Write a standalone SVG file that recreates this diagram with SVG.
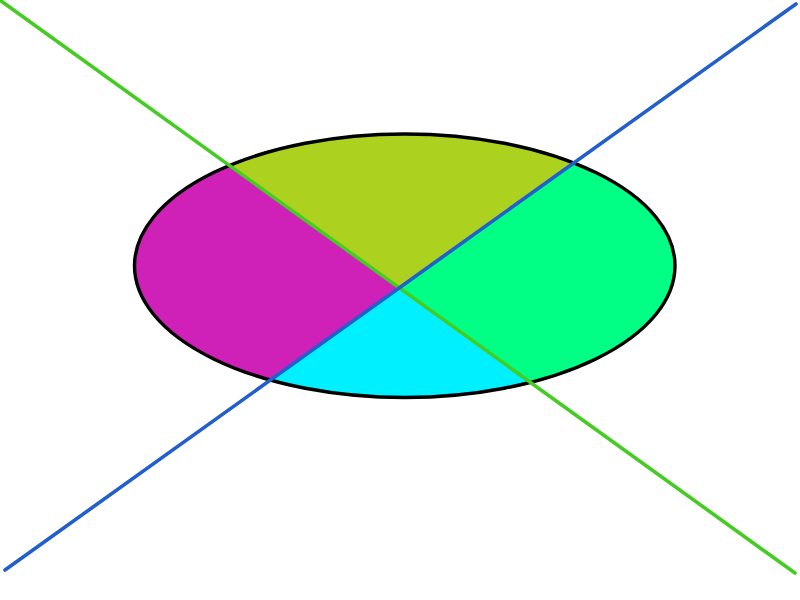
<svg xmlns="http://www.w3.org/2000/svg" width="800" height="600" viewBox="0 0 800 600">
<defs>
<clipPath id="ec"><ellipse cx="404.75" cy="265.75" rx="270.25" ry="131.75"/></clipPath>
<style>
.ln{fill:none;stroke-width:3.6;stroke-linecap:round}
</style>
</defs>
<rect width="800" height="600" fill="#ffffff"/>
<g id="ellipse">
<g clip-path="url(#ec)">
<polygon points="-3,-2 399.3,287.9 796,4" fill="#add11f"/>
<polygon points="-3,-2 399.3,287.9 5,570 -20,570 -20,-2" fill="#cf20b8"/>
<polygon points="796,4 399.3,287.9 795,573 820,573 820,4" fill="#00ff84"/>
<polygon points="5,570 399.3,287.9 795,573 795,620 5,620" fill="#00f0ff"/>
</g>
<ellipse cx="404.75" cy="265.75" rx="270.25" ry="131.75" fill="none" stroke="#000000" stroke-width="3.4"/>
</g>
<g id="connectors">
<path class="ln" d="M -3 -2 L 795 573" stroke="#44cc22"/>
<path class="ln" d="M 5 570 L 796 4" stroke="#225ecc"/>
</g>
</svg>
